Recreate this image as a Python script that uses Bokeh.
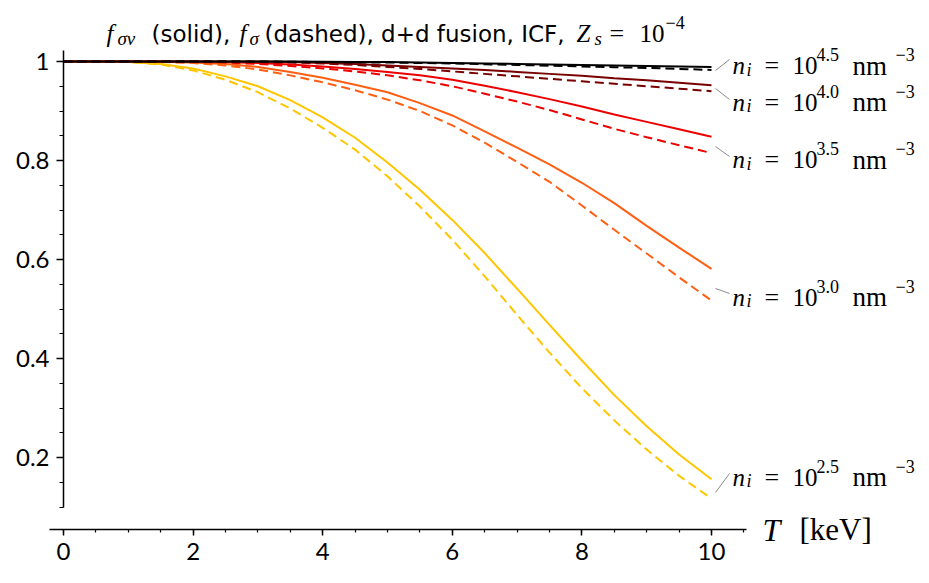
from bokeh.plotting import figure
from bokeh.models import Range1d, FixedTicker, CustomJSTickFormatter, Label
from bokeh.core.properties import value
from bokeh.embed import file_html
from bokeh.resources import INLINE

# ---------------------------------------------------------------- data
T_keV = [0.0, 0.5, 1.0, 1.5, 2.0, 2.5, 3.0, 3.5, 4.0, 4.5, 5.0,
         5.5, 6.0, 6.5, 7.0, 7.5, 8.0, 8.5, 9.0, 9.5, 10.0]

# f_sigma_v (solid) and f_sigma (dashed) for each ion density
fsv_25 = [1.000, 1.000, 0.999, 0.995, 0.986, 0.970, 0.950, 0.922, 0.887, 0.846, 0.796,
          0.741, 0.680, 0.613, 0.541, 0.468, 0.396, 0.326, 0.263, 0.206, 0.156]
fs_25 = [1.000, 1.000, 0.999, 0.994, 0.982, 0.963, 0.938, 0.905, 0.866, 0.822, 0.768,
         0.707, 0.640, 0.566, 0.488, 0.412, 0.340, 0.275, 0.216, 0.163, 0.117]

fsv_30 = [1.000, 1.000, 1.000, 0.9995, 0.998, 0.995, 0.989, 0.979, 0.967, 0.953, 0.938,
          0.916, 0.891, 0.859, 0.826, 0.792, 0.755, 0.714, 0.668, 0.624, 0.581]
fs_30 = [1.000, 1.000, 1.000, 0.999, 0.997, 0.992, 0.984, 0.972, 0.958, 0.942, 0.923,
         0.900, 0.871, 0.836, 0.797, 0.757, 0.709, 0.660, 0.612, 0.564, 0.517]

fsv_35 = [1.000, 1.000, 1.000, 1.000, 1.000, 0.999, 0.997, 0.994, 0.990, 0.985, 0.979,
          0.972, 0.963, 0.951, 0.938, 0.924, 0.909, 0.893, 0.878, 0.863, 0.848]
fs_35 = [1.000, 1.000, 1.000, 1.000, 0.999, 0.998, 0.995, 0.991, 0.986, 0.980, 0.972,
         0.962, 0.950, 0.935, 0.919, 0.902, 0.883, 0.864, 0.847, 0.831, 0.815]

fsv_40 = [1.000, 1.000, 1.000, 1.000, 1.000, 1.000, 1.000, 0.999, 0.997, 0.995, 0.992,
          0.989, 0.986, 0.983, 0.979, 0.975, 0.971, 0.966, 0.962, 0.957, 0.952]
fs_40 = [1.000, 1.000, 1.000, 1.000, 1.000, 1.000, 0.999, 0.998, 0.996, 0.993, 0.989,
         0.985, 0.980, 0.975, 0.970, 0.965, 0.960, 0.955, 0.950, 0.945, 0.940]

fsv_45 = [1.000, 1.000, 1.000, 1.000, 1.000, 1.000, 1.000, 1.000, 0.9995, 0.999, 0.999,
          0.998, 0.997, 0.996, 0.995, 0.994, 0.993, 0.992, 0.991, 0.990, 0.989]
fs_45 = [1.000, 1.000, 1.000, 1.000, 1.000, 1.000, 1.000, 0.9995, 0.999, 0.998, 0.998,
         0.997, 0.996, 0.9945, 0.993, 0.9915, 0.990, 0.9885, 0.987, 0.985, 0.983]

density_exp = ["2.5", "3.0", "3.5", "4.0", "4.5"]
solid_series = [fsv_25, fsv_30, fsv_35, fsv_40, fsv_45]
dashed_series = [fs_25, fs_30, fs_35, fs_40, fs_45]
colors = ["#ffc600", "#ff5f12", "#ec0000", "#780000", "#000000"]

# density labels at the right end: baseline height and leader-line ends
label_y = [0.1602, 0.5238, 0.8014, 0.9178, 0.9919]
leader_y_start = [0.1293, 0.5414, 0.8283, 0.9455, 0.9818]
leader_y_end = [0.1677, 0.5313, 0.8081, 0.9232, 1.0040]

x_ticks = [0, 2, 4, 6, 8, 10]
x_minor = [0, 0.5, 1, 1.5, 2, 2.5, 3, 3.5, 4, 4.5, 5, 5.5, 6, 6.5, 7, 7.5, 8,
           8.5, 9, 9.5, 10, 10.5]
y_ticks = [0.2, 0.4, 0.6, 0.8, 1.0]
y_minor = [0.1, 0.15, 0.2, 0.25, 0.3, 0.35, 0.4, 0.45, 0.5, 0.55, 0.6, 0.65,
           0.7, 0.75, 0.8, 0.85, 0.9, 0.95, 1.0]

# ---------------------------------------------------------------- geometry
W, H = 929, 583
PX_PER_KEV = 64.8
PX_PER_UNIT = 495.0
ZERO_PX = 63                    # page x of T = 0
ONE_PX = 61                     # page y of f = 1
X_AXIS_PX = 529                 # page y of the horizontal axis line

x_start = -ZERO_PX / PX_PER_KEV
x_end = x_start + W / PX_PER_KEV
y_end = 1 + ONE_PX / PX_PER_UNIT
y_start = y_end - H / PX_PER_UNIT


def px_x(px):
    """page pixel column -> data x"""
    return x_start + px / PX_PER_KEV


def px_y(py):
    """page pixel row -> data y"""
    return y_end - py / PX_PER_UNIT


SANS = "DejaVu Sans"
TICK_FONT = "Lato"
SERIF = "Liberation Serif"

p = figure(width=W, height=H, x_range=Range1d(x_start, x_end),
           y_range=Range1d(y_start, y_end), output_backend="svg",
           toolbar_location=None, min_border=0)
p.outline_line_color = None
p.grid.visible = False
p.background_fill_color = "white"
p.border_fill_color = "white"

# ---------------------------------------------------------------- axes
xa = p.xaxis[0]
xa.fixed_location = px_y(X_AXIS_PX)
xa.ticker = FixedTicker(ticks=x_ticks, minor_ticks=x_minor)
xa.bounds = (px_x(49), px_x(746))
xa.axis_line_width = 1.5
xa.major_tick_line_width = 1.5
xa.minor_tick_line_width = 1.2
xa.major_tick_in = 0
xa.major_tick_out = 6
xa.minor_tick_in = 0
xa.minor_tick_out = 3
xa.major_label_standoff = 7
xa.major_label_text_font = TICK_FONT
xa.major_label_text_font_size = "24px"
xa.major_label_text_color = "black"

ya = p.yaxis[0]
ya.fixed_location = 0
ya.ticker = FixedTicker(ticks=y_ticks, minor_ticks=y_minor)
ya.bounds = (0.1, px_y(50))
ya.formatter = CustomJSTickFormatter(code="return tick > 0.999 ? '1' : tick.toFixed(1);")
ya.axis_line_width = 1.5
ya.major_tick_line_width = 1.5
ya.minor_tick_line_width = 1.2
ya.major_tick_in = 0
ya.major_tick_out = 7
ya.minor_tick_in = 0
ya.minor_tick_out = 4
ya.major_label_standoff = 7
ya.major_label_text_font = TICK_FONT
ya.major_label_text_font_size = "24px"
ya.major_label_text_color = "black"

# ---------------------------------------------------------------- curves
for solid, dashed, c in zip(solid_series, dashed_series, colors):
    p.line(T_keV, dashed, line_color=c, line_width=2, line_dash="9 5")
    p.line(T_keV, solid, line_color=c, line_width=2)

# ---------------------------------------------------------------- density labels
leader_x0 = [10.062] * len(density_exp)
leader_x1 = [10.278] * len(density_exp)
p.segment(x0=leader_x0, y0=leader_y_start, x1=leader_x1, y1=leader_y_end,
          line_color="#8c8c8c", line_width=1)

lab_x = 10.324
n = len(density_exp)


def piece(texts, dx, rise, size, font, style):
    """one run of the density label; dx and rise are in pixels"""
    p.text(x=[lab_x + dx / PX_PER_KEV] * n,
           y=[v + rise / PX_PER_UNIT for v in label_y], text=texts,
           text_font=value(font), text_font_style=style, text_font_size=size,
           text_align="left", text_baseline="alphabetic", text_color="black")


piece(["n"] * n, 0, 0, "25px", SERIF, "italic")
piece(["i"] * n, 14, -4, "18px", SERIF, "italic")
piece(["="] * n, 32, 0, "26px", SERIF, "normal")
piece(["10"] * n, 60, 0, "25px", SERIF, "normal")
piece(density_exp, 84, 11, "18px", SERIF, "normal")
piece(["nm"] * n, 120, 0, "27px", SERIF, "normal")
piece(["\u22123"] * n, 163, 11, "18px", SERIF, "normal")

# ---------------------------------------------------------------- title & axis label


def lab(text, px, py, size, font, style="normal"):
    p.add_layout(Label(x=px_x(px), y=px_y(py), text=text, text_font=font,
                       text_font_style=style, text_font_size=size,
                       text_align="left", text_baseline="alphabetic",
                       text_color="black"))


lab("f", 106, 33, "25px", SERIF, "italic")
lab("\u03c3v", 117, 38, "19px", SERIF, "italic")
lab("(solid),", 151, 33, "23px", SANS)
lab("f", 239, 33, "25px", SERIF, "italic")
lab("\u03c3", 249, 38, "19px", SERIF, "italic")
lab("(dashed), d+d fusion, ICF,", 264, 33, "23px", SANS)
lab("Z", 576, 33, "25px", SERIF, "italic")
lab("s", 594, 38, "19px", SERIF, "italic")
lab("=", 609, 33, "26px", SERIF)
lab("10", 639, 33, "25px", SERIF)
lab("\u22124", 665, 22, "18px", SERIF)

lab("T", 762, 529, "32px", SERIF, "italic")
lab("[keV]", 799, 529, "31px", SERIF)

open("out.html", "w").write(file_html(p, INLINE))
